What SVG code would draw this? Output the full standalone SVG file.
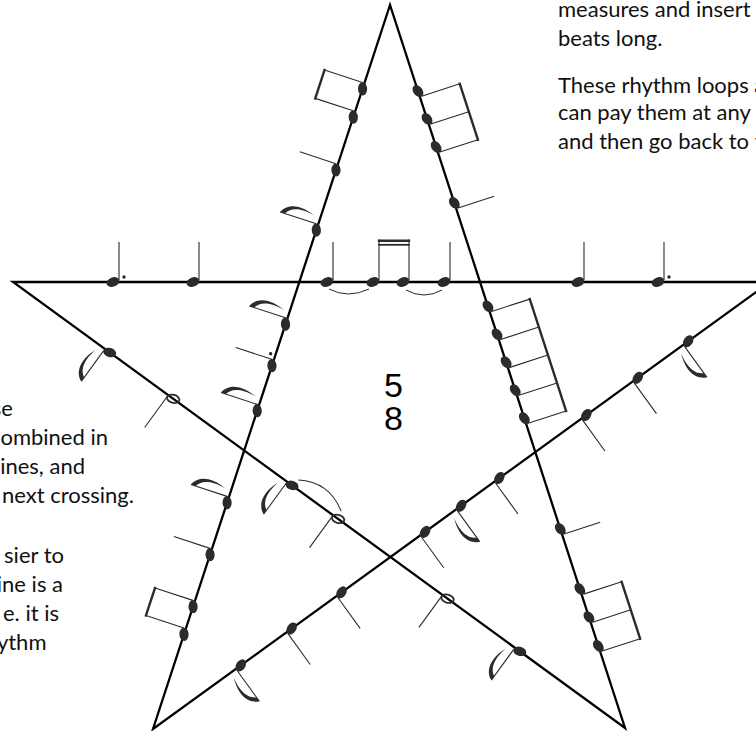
<svg xmlns="http://www.w3.org/2000/svg" width="756" height="731" viewBox="0 0 756 731">
<defs>
<style>
.star{fill:none;stroke:#000;stroke-width:2.3;stroke-linejoin:miter}
.st{stroke:#2b2b2b;stroke-width:1.1;fill:none}
.bm{stroke:#2b2b2b;stroke-width:2.4;fill:none;stroke-linecap:square}
.hd{fill:#2b2b2b}
.ho{fill:none;stroke:#2b2b2b;stroke-width:1.8}
.tie{fill:none;stroke:#2b2b2b;stroke-width:1}
.fl{fill:#2b2b2b}
.tx{font-family:Lato,"Open Sans","Liberation Sans",sans-serif;font-size:22px;fill:#111}
.num{font-family:"Liberation Sans",Arial,sans-serif;font-size:34px;fill:#000;text-anchor:middle}
</style>
<ellipse id="h" class="hd" rx="6.6" ry="4.6" transform="rotate(-20)"/>
<g id="q"><use href="#h"/><line class="st" x1="6" y1="-2" x2="6" y2="-40"/></g>
<g id="e"><use href="#q"/><path class="fl" d="M6,-40 C14,-37 21,-26 13,-6 C17,-24 12,-32 6,-35 Z"/></g>
<g id="d"><use href="#q"/><circle class="hd" cx="11" cy="-5" r="1.7"/></g>
<g id="hn"><ellipse class="ho" rx="6.3" ry="4" transform="rotate(-20)"/><line class="st" x1="6.2" y1="-2" x2="6.2" y2="-40"/></g>
<g id="b"><use href="#h"/><line class="st" x1="6" y1="-2" x2="6" y2="-42"/></g>
</defs>
<rect width="756" height="731" fill="#fff"/>

<g id="connectors">
<path class="star" d="M390,5 L153,729 L770,282 L13,282 L625,728 Z"/>
</g>

<g id="line-horizontal">
<use href="#d" x="113" y="282"/>
<use href="#q" x="193" y="282"/>
<use href="#q" x="327" y="282"/>
<use href="#h" x="373" y="282"/>
<line class="st" x1="379" y1="280" x2="379" y2="239.5"/>
<use href="#h" x="403" y="282"/>
<line class="st" x1="409" y1="280" x2="409" y2="239.5"/>
<line class="bm" x1="379" y1="240.8" x2="409" y2="240.8"/>
<line class="bm" x1="379" y1="244.8" x2="409" y2="244.8" style="stroke-width:1.8"/>
<use href="#q" x="444" y="282"/>
<use href="#q" x="578" y="282"/>
<use href="#d" x="658" y="282"/>
<path class="tie" d="M329,289 Q348,299 369,289"/>
<path class="tie" d="M406,290 Q424,300 442,290"/>
</g>

<g id="line-left-diagonal" transform="translate(153,729) rotate(-71.874)">
<use href="#b" x="99.6"/><use href="#b" x="128.7"/>
<line class="bm" x1="105.6" y1="-42" x2="134.7" y2="-42"/>
<use href="#q" x="183.4"/>
<use href="#e" x="238.1"/>
<use href="#e" x="334.9"/>
<use href="#d" x="382.3"/>
<use href="#e" x="426"/>
<use href="#e" x="525"/>
<use href="#q" x="588.2"/>
<use href="#b" x="643.8"/><use href="#b" x="673.6"/>
<line class="bm" x1="649.8" y1="-42" x2="679.6" y2="-42"/>
</g>

<g id="line-right-diagonal" transform="translate(390,5) rotate(71.994)">
<use href="#b" x="90.5"/><use href="#b" x="119.8"/><use href="#b" x="149.3"/>
<line class="bm" x1="96.5" y1="-42" x2="155.3" y2="-42"/>
<use href="#q" x="208.1"/>
<use href="#b" x="316.9"/><use href="#b" x="346.3"/><use href="#b" x="375.7"/><use href="#b" x="405.1"/><use href="#b" x="434.5"/>
<line class="bm" x1="322.9" y1="-42" x2="440.5" y2="-42"/>
<use href="#q" x="550.9"/>
<use href="#b" x="614.1"/><use href="#b" x="643.6"/><use href="#b" x="674"/>
<line class="bm" x1="620.1" y1="-42" x2="680" y2="-42"/>
</g>

<g id="line-left-low" transform="translate(625,728) rotate(-143.92)">
<use href="#e" x="130.2"/>
<use href="#hn" x="219.6"/>
<use href="#hn" x="355"/>
<use href="#e" x="412"/>
<path class="tie" d="M410,8 Q384,25 357,8"/>
<use href="#hn" x="559"/>
<use href="#e" x="637.6"/>
</g>

<g id="line-right-low" transform="translate(770,282) rotate(144.08)">
<use href="#e" x="101"/>
<use href="#q" x="163.2"/>
<use href="#q" x="226.8"/>
<use href="#q" x="334.2"/>
<use href="#e" x="381.4"/>
<use href="#q" x="425.9"/>
<use href="#q" x="529.1"/>
<use href="#q" x="590.7"/>
<use href="#e" x="653.5"/>
</g>

<g id="time-signature">
<text class="num"><tspan x="393.5" y="397">5</tspan><tspan x="393.5" y="430">8</tspan></text>
</g>

<g id="text-right">
<text class="tx" x="558" y="17">measures and insert</text>
<text class="tx" x="558" y="45.5">beats long.</text>
<text class="tx" x="558" y="93">These rhythm loops a</text>
<text class="tx" x="558" y="120">can pay them at any</text>
<text class="tx" x="558" y="148.5">and then go back to t</text>
</g>

<g id="text-left" style="text-anchor:end">
<text class="tx" x="13" y="415.5">se</text>
<text class="tx" x="108" y="444.5">ombined in</text>
<text class="tx" x="85" y="474">ines, and</text>
<text class="tx" x="134" y="503">next crossing.</text>
<text class="tx" x="64" y="563">sier to</text>
<text class="tx" x="63" y="592">ine is a</text>
<text class="tx" x="59" y="621">e. it is</text>
<text class="tx" x="46.5" y="650">ythm</text>
</g>
</svg>
